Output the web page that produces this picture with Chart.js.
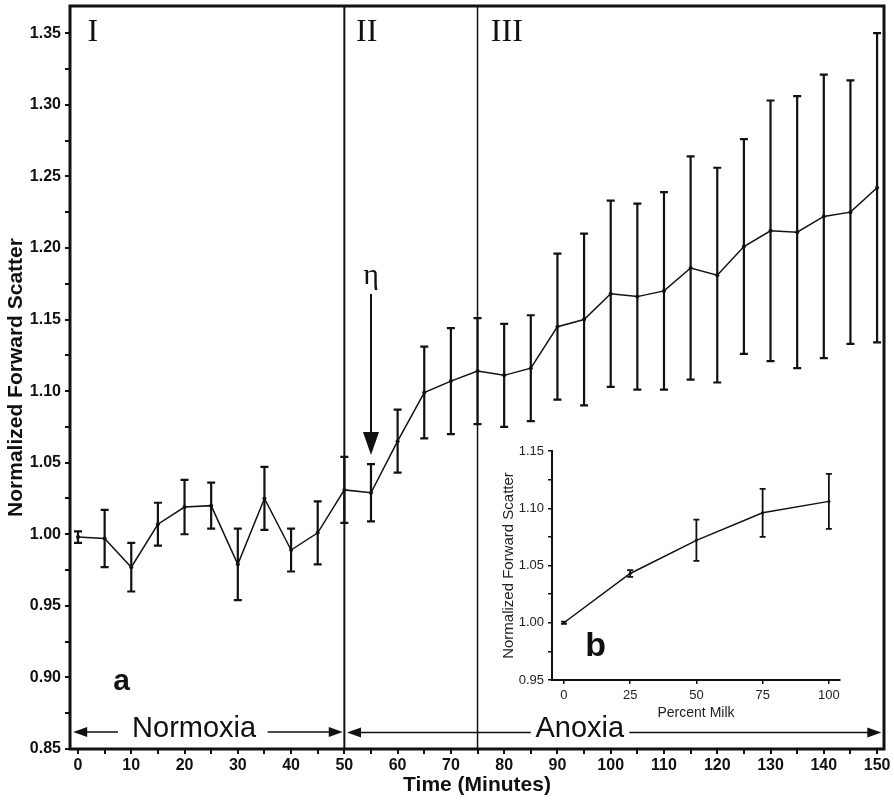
<!DOCTYPE html>
<html>
<head>
<meta charset="utf-8">
<script src="https://cdn.jsdelivr.net/npm/chart.js@4.4.1/dist/chart.umd.min.js"></script>
<style>
  body { margin: 0; background: #fff; }
  #caja { position: relative; width: 894px; height: 800px; }
  #grafico { position: absolute; left: 0; top: 0; }
  #recuadro { position: absolute; left: 480px; top: 436px; }
</style>
</head>
<body>
<div id="caja">
  <canvas id="grafico" width="894" height="800"></canvas>
  <canvas id="recuadro" width="380" height="290"></canvas>
</div>
<script>
// panel a: tiempo vs dispersion normalizada (media y error)
const tiempos = [0, 5, 10, 15, 20, 25, 30, 35, 40, 45, 50, 55, 60, 65, 70, 75, 80, 85, 90, 95, 100, 105, 110, 115, 120, 125, 130, 135, 140, 145, 150]
const dispersion = [0.998, 0.997, 0.977, 1.007, 1.019, 1.020, 0.979, 1.025, 0.989, 1.001, 1.031, 1.029, 1.065, 1.099, 1.107, 1.114, 1.111, 1.116, 1.145, 1.150, 1.168, 1.166, 1.170, 1.186, 1.181, 1.201, 1.212, 1.211, 1.222, 1.225, 1.242]
const errores = [0.004, 0.020, 0.017, 0.015, 0.019, 0.016, 0.025, 0.022, 0.015, 0.022, 0.023, 0.020, 0.022, 0.032, 0.037, 0.037, 0.036, 0.037, 0.051, 0.060, 0.065, 0.065, 0.069, 0.078, 0.075, 0.075, 0.091, 0.095, 0.099, 0.092, 0.108]

// panel b: porcentaje de leche
const leche = [0, 25, 50, 75, 100]
const dispersionLeche = [1.000, 1.043, 1.072, 1.096, 1.106]
const erroresLeche = [0.001, 0.003, 0.018, 0.021, 0.024]

const fuente = "'Liberation Sans', Arial, sans-serif"
const fuenteAngosta = "'Liberation Sans Narrow', 'Liberation Sans', Arial, sans-serif"
const fuenteSerif = "'Liberation Serif', 'DejaVu Serif', serif"

const barrasError = {
    id: 'barrasError',
    afterDatasetsDraw(chart, args, opts) {
        const {ctx} = chart
        const x = chart.scales.x
        const y = chart.scales.y
        ctx.save()
        ctx.strokeStyle = '#111'
        ctx.lineWidth = opts.grosor
        opts.xs.forEach((t, i) => {
            const px = x.getPixelForValue(t)
            const arriba = y.getPixelForValue(opts.medias[i] + opts.errores[i])
            const abajo = y.getPixelForValue(opts.medias[i] - opts.errores[i])
            ctx.beginPath()
            ctx.moveTo(px, arriba)
            ctx.lineTo(px, abajo)
            ctx.moveTo(px - opts.tapa, arriba)
            ctx.lineTo(px + opts.tapa, arriba)
            ctx.moveTo(px - opts.tapa, abajo)
            ctx.lineTo(px + opts.tapa, abajo)
            ctx.stroke()
        })
        ctx.restore()
    }
}

function punta(ctx, x, y, dir) {
    ctx.beginPath()
    ctx.moveTo(x, y)
    ctx.lineTo(x - dir * 14, y - 5)
    ctx.lineTo(x - dir * 14, y + 5)
    ctx.closePath()
    ctx.fill()
}

function flechaDoble(ctx, x, y, t1, t2, t3, t4, vy) {
    const py = y.getPixelForValue(vy)
    const a = x.getPixelForValue(t1)
    const b = x.getPixelForValue(t2)
    const c = x.getPixelForValue(t3)
    const d = x.getPixelForValue(t4)
    ctx.lineWidth = 1.5
    ctx.beginPath()
    ctx.moveTo(a + 10, py)
    ctx.lineTo(b, py)
    ctx.moveTo(c, py)
    ctx.lineTo(d - 10, py)
    ctx.stroke()
    punta(ctx, a, py, -1)
    punta(ctx, d, py, 1)
}

const anotaciones = {
    id: 'anotaciones',
    beforeDatasetsDraw(chart) {
        const {ctx} = chart
        const x = chart.scales.x
        const area = chart.chartArea
        ctx.save()
        ctx.strokeStyle = '#111'
        ;[[50, 2], [75, 1.5]].forEach(([t, g]) => {
            const px = x.getPixelForValue(t)
            ctx.lineWidth = g
            ctx.beginPath()
            ctx.moveTo(px, area.top)
            ctx.lineTo(px, area.bottom)
            ctx.stroke()
        })
        ctx.restore()
    },
    afterDraw(chart) {
        const {ctx} = chart
        const x = chart.scales.x
        const y = chart.scales.y
        const area = chart.chartArea
        ctx.save()
        ctx.strokeStyle = '#111'
        ctx.fillStyle = '#111'
        ctx.lineWidth = 3
        ctx.strokeRect(area.left, area.top, area.right - area.left, area.bottom - area.top)

        ctx.textAlign = 'center'
        ctx.textBaseline = 'middle'
        ctx.font = '32px ' + fuenteSerif
        ctx.fillText('I', x.getPixelForValue(2.8), 33)
        ctx.fillText('II', x.getPixelForValue(54.2), 33)
        ctx.fillText('III', x.getPixelForValue(80.5), 33)

        // flecha eta
        const pe = x.getPixelForValue(55)
        ctx.font = '30px ' + fuenteSerif
        ctx.fillText('η', pe, 276)
        ctx.lineWidth = 2
        ctx.beginPath()
        ctx.moveTo(pe, 294)
        ctx.lineTo(pe, 436)
        ctx.stroke()
        ctx.beginPath()
        ctx.moveTo(pe - 8, 432)
        ctx.lineTo(pe + 8, 432)
        ctx.lineTo(pe, 455)
        ctx.closePath()
        ctx.fill()

        ctx.font = 'bold 30px ' + fuente
        ctx.fillText('a', x.getPixelForValue(8.2), y.getPixelForValue(0.897))

        flechaDoble(ctx, x, y, -0.9, 7.5, 35.6, 49.7, 0.8619)
        flechaDoble(ctx, x, y, 50.5, 85, 103.5, 150.8, 0.8615)
        ctx.font = '29px ' + fuente
        ctx.fillText('Normoxia', x.getPixelForValue(21.8), y.getPixelForValue(0.8642))
        ctx.fillText('Anoxia', x.getPixelForValue(94.2), y.getPixelForValue(0.8642))
        ctx.restore()
    }
}

const etiquetaB = {
    id: 'etiquetaB',
    afterDraw(chart) {
        const {ctx} = chart
        ctx.save()
        ctx.fillStyle = '#111'
        ctx.textAlign = 'center'
        ctx.textBaseline = 'middle'
        ctx.font = 'bold 34px ' + fuente
        ctx.fillText('b', chart.scales.x.getPixelForValue(12), chart.scales.y.getPixelForValue(0.979))
        ctx.restore()
    }
}

function etiquetaMayor(v) {
    return Math.abs(v * 20 - Math.round(v * 20)) < 1e-6 ? v.toFixed(2) : ''
}

// sin relleno automatico por etiquetas: el area la fija layout.padding
function sinRelleno(s) {
    s.paddingTop = 0
    s.paddingBottom = 0
    s.paddingLeft = 0
    s.paddingRight = 0
}

new Chart(document.getElementById('grafico').getContext('2d'), {
    type: 'line',
    data: {
        datasets: [{
            data: tiempos.map((t, i) => ({x: t, y: dispersion[i]})),
            borderColor: '#111',
            borderWidth: 1.5,
            pointRadius: 2,
            pointBackgroundColor: '#111',
            pointBorderWidth: 0,
            tension: 0
        }]
    },
    plugins: [anotaciones, barrasError],
    options: {
        responsive: false,
        animation: false,
        layout: {padding: {top: 6, right: 10}},
        plugins: {
            legend: {display: false},
            tooltip: {enabled: false},
            barrasError: {xs: tiempos, medias: dispersion, errores: errores, grosor: 2.2, tapa: 4}
        },
        scales: {
            x: {
                type: 'linear',
                min: -1.5,
                max: 151.3,
                afterFit: s => { s.height = 51; sinRelleno(s) },
                border: {display: false},
                grid: {drawOnChartArea: false, tickLength: 5, color: '#111', lineWidth: 2},
                ticks: {
                    stepSize: 5, autoSkip: false, maxRotation: 0, includeBounds: false, maxTicksLimit: 100,
                    color: '#111', padding: 2, font: {family: fuente, size: 16, weight: 'bold'},
                    callback: v => v % 10 === 0 ? String(v) : ''
                },
                title: {display: true, text: 'Time (Minutes)', color: '#111', font: {family: fuente, size: 21, weight: 'bold'}, padding: {top: 0, bottom: 2}}
            },
            y: {
                min: 0.85,
                max: 1.369,
                afterFit: s => { s.width = 70; sinRelleno(s) },
                border: {display: false},
                grid: {drawOnChartArea: false, tickLength: 5, color: '#111', lineWidth: 2},
                ticks: {
                    stepSize: 0.025, autoSkip: false, includeBounds: false, maxTicksLimit: 100,
                    color: '#111', padding: 4, font: {family: fuente, size: 16, weight: 'bold'},
                    callback: etiquetaMayor
                },
                title: {display: true, text: 'Normalized Forward Scatter', color: '#111', font: {family: fuente, size: 21, weight: 'bold'}, padding: {top: 4, bottom: 0}}
            }
        }
    }
})

new Chart(document.getElementById('recuadro').getContext('2d'), {
    type: 'line',
    data: {
        datasets: [{
            data: leche.map((p, i) => ({x: p, y: dispersionLeche[i]})),
            borderColor: '#111',
            borderWidth: 1.5,
            pointRadius: 1.5,
            pointBackgroundColor: '#111',
            pointBorderWidth: 0,
            tension: 0
        }]
    },
    plugins: [barrasError, etiquetaB],
    options: {
        responsive: false,
        animation: false,
        layout: {padding: {top: 15, right: 20}},
        plugins: {
            legend: {display: false},
            tooltip: {enabled: false},
            barrasError: {xs: leche, medias: dispersionLeche, errores: erroresLeche, grosor: 1.8, tapa: 3}
        },
        scales: {
            x: {
                type: 'linear',
                min: -4.5,
                max: 104.2,
                afterFit: s => { s.height = 46; sinRelleno(s) },
                border: {display: true, color: '#111', width: 2},
                grid: {drawOnChartArea: false, tickLength: 4, color: '#111', lineWidth: 1.5},
                ticks: {
                    stepSize: 25, autoSkip: false, maxRotation: 0, includeBounds: false,
                    color: '#222', padding: 4, font: {family: fuenteAngosta, size: 13}
                },
                title: {display: true, text: 'Percent Milk', color: '#222', font: {family: fuenteAngosta, size: 14}, padding: {top: 0, bottom: 4}}
            },
            y: {
                min: 0.95,
                max: 1.15,
                afterFit: s => { s.width = 72; sinRelleno(s) },
                border: {display: true, color: '#111', width: 2},
                grid: {drawOnChartArea: false, tickLength: 4, color: '#111', lineWidth: 1.5},
                ticks: {
                    stepSize: 0.025, autoSkip: false, includeBounds: false, maxTicksLimit: 100,
                    color: '#222', padding: 4, font: {family: fuenteAngosta, size: 13},
                    callback: etiquetaMayor
                },
                title: {display: true, text: 'Normalized Forward Scatter', color: '#222', font: {family: fuenteAngosta, size: 15}, padding: {top: 20, bottom: 0}}
            }
        }
    }
})
</script>
</body>
</html>
